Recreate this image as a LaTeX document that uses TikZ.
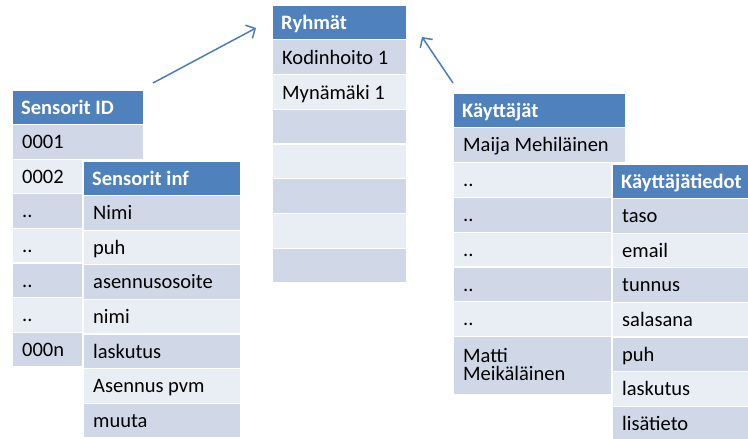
\documentclass[tikz,border=0pt]{standalone}
\usepackage{fontspec}
\setmainfont{Carlito}
\usetikzlibrary{arrows.meta}
\definecolor{hdrblue}{HTML}{4F81BD}
\definecolor{banddark}{HTML}{D0D8E8}
\definecolor{bandlight}{HTML}{E9EDF4}
\definecolor{arrowblue}{HTML}{4A7EBB}
\newcommand\tabfont{\fontsize{20.5}{18.5}\selectfont}
\newcommand\dd{..}
\begin{document}
\begin{tikzpicture}[x=1pt,y=-1pt,
  hdr/.style={fill=hdrblue, draw=white, line width=1.3pt},
  band1/.style={fill=banddark, draw=white, line width=1.3pt},
  band0/.style={fill=bandlight, draw=white, line width=1.3pt},
  htxt/.style={anchor=base west, inner sep=0pt, text=white, font=\tabfont\bfseries},
  ctxt/.style={anchor=base west, inner sep=0pt, text=black, font=\tabfont},
  arr/.style={draw=arrowblue, line width=1.5pt, -{Straight Barb[length=7pt,width=15pt]}}]
\useasboundingbox (0,0) rectangle (748,439);
\clip (0,0) rectangle (748,439);

% Sensorit ID
\path[hdr] (12,90) rectangle (144,124.6);
\node[htxt] (sidh) at (21,114) {Sensorit ID};
\foreach \t [count=\i] in {0001,0002,\dd,\dd,\dd,\dd,000n}{
  \pgfmathsetmacro\yt{90+34.6*\i}
  \pgfmathtruncatemacro\odd{mod(\i,2)}
  \path[band\odd] (12,\yt) rectangle (144,\yt+34.6);
  \node[ctxt] (sid\i) at (22,\yt+24) {\t};
}

% Sensorit inf
\path[hdr] (83,161) rectangle (241,195.6);
\node[htxt] (sinfh) at (92,185) {Sensorit inf};
\foreach \t [count=\i] in {Nimi,puh,asennusosoite,nimi,laskutus,Asennus pvm,muuta}{
  \pgfmathsetmacro\yt{161+34.6*\i}
  \pgfmathtruncatemacro\odd{mod(\i,2)}
  \path[band\odd] (83,\yt) rectangle (241,\yt+34.6);
  \node[ctxt] (sinf\i) at (93,\yt+24) {\t};
}

% Ryhmat
\path[hdr] (272,5) rectangle (407,39.75);
\node[htxt] (ryh) at (281,29) {Ryhmät};
\foreach \i in {1,...,7}{
  \pgfmathsetmacro\yt{5+34.75*\i}
  \pgfmathtruncatemacro\odd{mod(\i,2)}
  \path[band\odd] (272,\yt) rectangle (407,\yt+34.75);
}
\node[ctxt] (ryh1) at (282,64) {Kodinhoito 1};
\node[ctxt] (ryh2) at (282,99) {Mynämäki 1};

% Kayttajat
\path[hdr] (453,93) rectangle (626,127.8);
\node[htxt] (kayh) at (462,117) {Käyttäjät};
\foreach \t [count=\i] in {Maija Mehiläinen,\dd,\dd,\dd,\dd,\dd}{
  \pgfmathsetmacro\yt{93+34.8*\i}
  \pgfmathtruncatemacro\odd{mod(\i,2)}
  \path[band\odd] (453,\yt) rectangle (626,\yt+34.8);
  \node[ctxt] (kay\i) at (463,\yt+24) {\t};
}
\path[band1] (453,336.6) rectangle (626,395);
\node[ctxt] (kay7a) at (463,362) {Matti};
\node[ctxt] (kay7b) at (463,380.5) {Meikäläinen};

% Kayttajatiedot
\path[hdr] (612,164) rectangle (770,198.6);
\node[htxt] (ktdh) at (621,188) {Käyttäjätiedot};
\foreach \t [count=\i] in {taso,email,tunnus,salasana,puh,laskutus,lisätieto}{
  \pgfmathsetmacro\yt{164+34.6*\i}
  \pgfmathtruncatemacro\odd{mod(\i,2)}
  \path[band\odd] (612,\yt) rectangle (770,\yt+34.6);
  \node[ctxt] (ktd\i) at (622,\yt+24) {\t};
}

% arrows
\coordinate (la) at (153,83);
\coordinate (lb) at (256,28);
\coordinate (ra) at (453,83);
\coordinate (rb) at (422,37);
\draw[arr] (la) -- (lb);
\draw[arr] (ra) -- (rb);
\end{tikzpicture}
\end{document}
